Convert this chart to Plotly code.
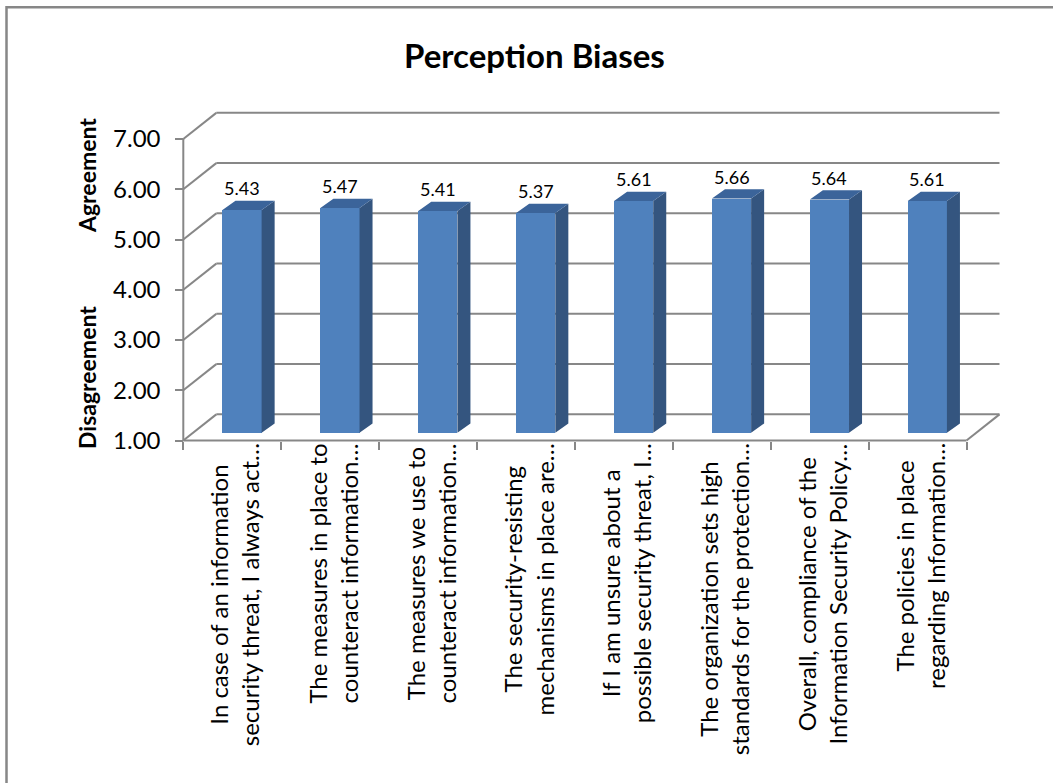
import plotly.graph_objects as go

# ---- data ----
categories = [
    "In case of an information<br>security threat, I always act…",
    "The measures in place to<br>counteract information…",
    "The measures we use to<br>counteract information…",
    "The security-resisting<br>mechanisms in place are…",
    "If I am unsure about a<br>possible security threat, I…",
    "The organization sets high<br>standards for the protection…",
    "Overall, compliance of the<br>Information Security Policy…",
    "The policies in place<br>regarding Information…",
]
values = [5.43, 5.47, 5.41, 5.37, 5.61, 5.66, 5.64, 5.61]
y_ticks = [1, 2, 3, 4, 5, 6, 7]
chart_title = "Perception Biases"
axis_title_top = "Agreement"
axis_title_bottom = "Disagreement"

# ---- page geometry ----
W, H = 1053, 783
ML, MR, MT, MB = 150, 23, 80, 263
PX_X = 97.9      # pixels per category
PX_Y = 50.25     # pixels per value unit
FLOOR_LEFT_PX = 183.3
VALUE1_PX = 440.5

plot_w = W - ML - MR
plot_h = H - MT - MB
x_lo = (ML - FLOOR_LEFT_PX) / PX_X - 0.5
x_hi = x_lo + plot_w / PX_X
y_hi = 1 + (VALUE1_PX - MT) / PX_Y
y_lo = y_hi - plot_h / PX_Y


def paper_x(px):
    return (px - ML) / plot_w


def paper_y(py):
    return (H - MB - py) / plot_h


# oblique projection of the depth axis (data units)
WALL_DX, WALL_DY = 0.337, 0.52
BAR_OFF_DX, BAR_OFF_DY = 0.10, 0.155
BAR_DX, BAR_DY = 0.133, 0.185
BAR_W = 0.40

GRID = "#878787"
FRONT = "#4F81BD"
SIDE = "#34557F"
TOP = "#3B649A"
FONT = "Lato"

n = len(categories)
y_min, y_max = y_ticks[0], y_ticks[-1]
x_left, x_right = -0.5, n - 0.5

fig = go.Figure()

# ---- walls and floor ----
shapes = []
line = dict(color=GRID, width=2)
for lv in y_ticks:
    # back wall gridline
    shapes.append(dict(type="line", xref="x", yref="y", layer="below",
                       x0=x_left + WALL_DX, y0=lv + WALL_DY,
                       x1=x_right + WALL_DX, y1=lv + WALL_DY, line=line))
    # side wall diagonal
    shapes.append(dict(type="line", xref="x", yref="y", layer="below",
                       x0=x_left, y0=lv, x1=x_left + WALL_DX, y1=lv + WALL_DY,
                       line=line))
# floor front edge and right edge
shapes.append(dict(type="line", xref="x", yref="y", layer="below",
                   x0=x_left, y0=y_min, x1=x_right, y1=y_min, line=line))
shapes.append(dict(type="line", xref="x", yref="y", layer="below",
                   x0=x_right, y0=y_min, x1=x_right + WALL_DX,
                   y1=y_min + WALL_DY, line=line))
# vertical value axis
shapes.append(dict(type="line", xref="x", yref="y", layer="below",
                   x0=x_left, y0=y_min, x1=x_left, y1=y_max, line=line))
# chart frame
shapes.append(dict(type="rect", xref="paper", yref="paper", layer="below",
                   x0=paper_x(6.5), y0=paper_y(H + 20), x1=paper_x(W + 20),
                   y1=paper_y(7.3), line=dict(color="#878787", width=2.5)))

# ---- bars: front faces ----
bar_x = [i + BAR_OFF_DX for i in range(n)]
base = y_min + BAR_OFF_DY
fig.add_trace(go.Bar(
    x=bar_x, y=[v - y_min for v in values], base=base, width=BAR_W,
    marker=dict(color=FRONT, line=dict(width=0)), hoverinfo="skip",
))

# ---- bars: side and top faces ----
sx, sy, tx, ty = [], [], [], []
for cx, v in zip(bar_x, values):
    top = v + BAR_OFF_DY
    xl, xr = cx - BAR_W / 2, cx + BAR_W / 2
    sx += [xr, xr + BAR_DX, xr + BAR_DX, xr, xr, None]
    sy += [base, base + BAR_DY, top + BAR_DY, top, base, None]
    tx += [xl, xl + BAR_DX, xr + BAR_DX, xr, xl, None]
    ty += [top, top + BAR_DY, top + BAR_DY, top, top, None]
fig.add_trace(go.Scatter(x=sx, y=sy, mode="none", fill="toself",
                         fillcolor=SIDE, hoverinfo="skip"))
fig.add_trace(go.Scatter(x=tx, y=ty, mode="none", fill="toself",
                         fillcolor=TOP, hoverinfo="skip"))

annotations = []
# value labels
for cx, v in zip(bar_x, values):
    annotations.append(dict(x=cx, y=v + BAR_OFF_DY, xref="x", yref="y",
                            text=f"{v:.2f}", showarrow=False, yshift=22,
                            xanchor="center", yanchor="middle",
                            font=dict(family=FONT, size=18, color="#000")))
# category labels
for i, c in enumerate(categories):
    annotations.append(dict(x=i + 0.02, y=y_min, xref="x", yref="y", text=c,
                            textangle=-90, xanchor="center", yanchor="top",
                            align="center", showarrow=False, yshift=-1,
                            font=dict(family=FONT, size=24, color="#000")))
# axis titles
for txt, py in ((axis_title_top, 176), (axis_title_bottom, 378)):
    annotations.append(dict(x=paper_x(87), y=paper_y(py), xref="paper",
                            yref="paper", text=f"<b>{txt}</b>",
                            textangle=-90, showarrow=False,
                            xanchor="center", yanchor="middle",
                            font=dict(family=FONT, size=23, color="#000")))
# chart title
annotations.append(dict(x=paper_x(534), y=paper_y(55), xref="paper",
                        yref="paper", text=f"<b>{chart_title}</b>",
                        showarrow=False, xanchor="center", yanchor="middle",
                        font=dict(family=FONT, size=33, color="#000")))

fig.update_layout(
    width=W, height=H,
    margin=dict(l=ML, r=MR, t=MT, b=MB, pad=0),
    paper_bgcolor="white", plot_bgcolor="white",
    showlegend=False, bargap=0,
    shapes=shapes, annotations=annotations,
    xaxis=dict(range=[x_lo, x_hi], anchor="free",
               position=paper_y(VALUE1_PX),
               tickvals=[i - 0.5 for i in range(n + 1)],
               showticklabels=False, ticks="outside", ticklen=8,
               tickwidth=2, tickcolor=GRID, showgrid=False,
               zeroline=False, showline=False, fixedrange=True),
    yaxis=dict(range=[y_lo, y_hi], anchor="free",
               position=paper_x(FLOOR_LEFT_PX),
               tickvals=y_ticks, tickformat=".2f", ticks="outside",
               ticklen=8, tickwidth=2, tickcolor=GRID,
               ticklabelstandoff=10,
               tickfont=dict(family=FONT, size=24, color="#000"),
               showgrid=False, zeroline=False, showline=False,
               fixedrange=True),
)

fig.write_html("out.html")
